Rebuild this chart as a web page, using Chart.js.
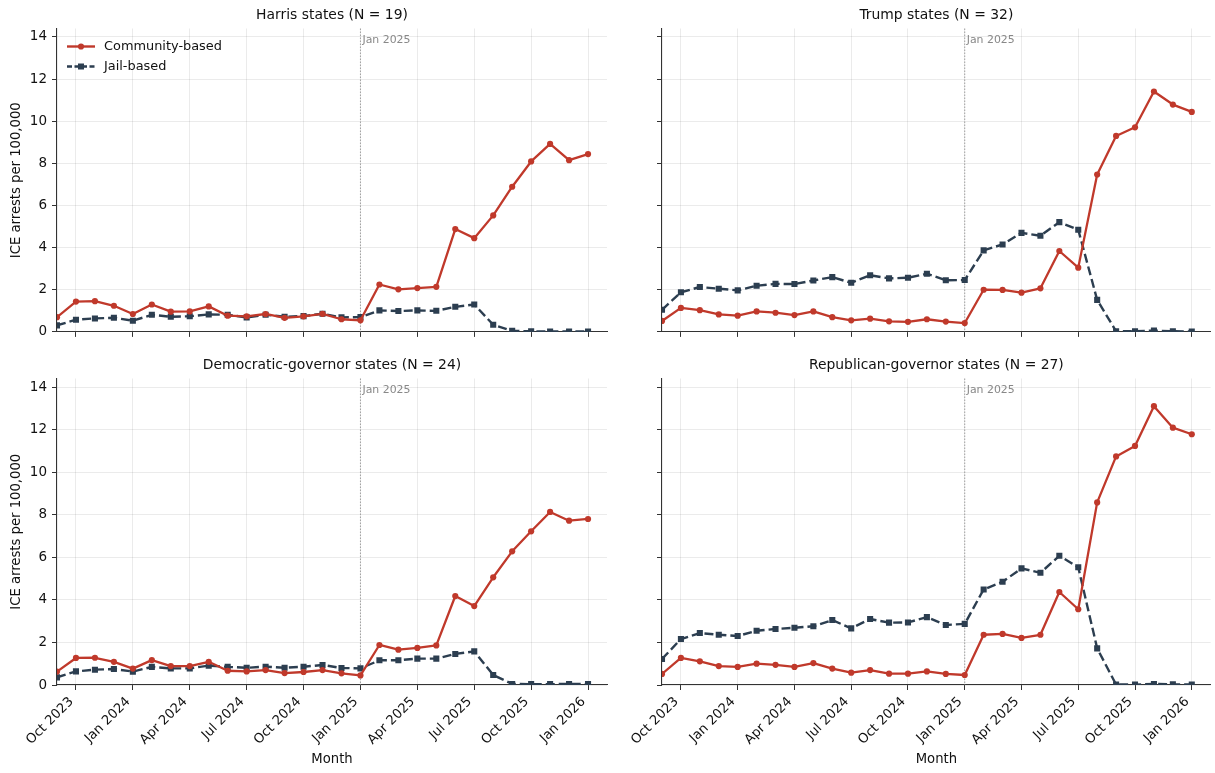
<!DOCTYPE html>
<html><head><meta charset="utf-8">
<script src="https://cdn.jsdelivr.net/npm/chart.js@4.4.1/dist/chart.umd.min.js"></script>
<style>
html,body{margin:0;padding:0;background:#fff;}
body{width:1215px;height:773px;position:relative;overflow:hidden;}
canvas{position:absolute;}
</style></head><body>
<canvas id="c1" width="615" height="345" style="left:0px;top:0px"></canvas>
<canvas id="c2" width="600" height="345" style="left:615px;top:0px"></canvas>
<canvas id="c3" width="615" height="428" style="left:0px;top:345px"></canvas>
<canvas id="c4" width="600" height="428" style="left:615px;top:345px"></canvas>
<script>
// ---- data ----
const months = ['Sep 2023','Oct 2023','Nov 2023','Dec 2023','Jan 2024','Feb 2024','Mar 2024','Apr 2024','May 2024','Jun 2024','Jul 2024','Aug 2024','Sep 2024','Oct 2024','Nov 2024','Dec 2024','Jan 2025','Feb 2025','Mar 2025','Apr 2025','May 2025','Jun 2025','Jul 2025','Aug 2025','Sep 2025','Oct 2025','Nov 2025','Dec 2025','Jan 2026'];
const xTickLabels = ['Oct 2023','Jan 2024','Apr 2024','Jul 2024','Oct 2024','Jan 2025','Apr 2025','Jul 2025','Oct 2025','Jan 2026'];
const yTickValues = [0,2,4,6,8,10,12,14];
const markerMonth = 'Jan 2025';

const harrisCommunity = [0.70,1.44,1.46,1.24,0.85,1.30,0.96,0.97,1.21,0.77,0.74,0.85,0.67,0.74,0.86,0.60,0.55,2.25,2.02,2.08,2.14,4.88,4.45,5.53,6.89,8.09,8.92,8.15,8.44];
const harrisJail      = [0.31,0.58,0.64,0.67,0.53,0.81,0.72,0.74,0.83,0.81,0.69,0.81,0.72,0.75,0.86,0.69,0.70,1.02,0.99,1.02,1.00,1.19,1.30,0.34,0.05,0.03,0.02,0.02,0.02];
const trumpCommunity  = [0.52,1.14,1.03,0.83,0.77,0.97,0.91,0.80,0.97,0.70,0.55,0.63,0.50,0.48,0.60,0.49,0.42,2.00,1.99,1.86,2.07,3.84,3.05,7.47,9.30,9.71,11.41,10.79,10.44];
const trumpJail       = [1.05,1.88,2.13,2.05,1.97,2.19,2.28,2.27,2.44,2.60,2.33,2.69,2.54,2.57,2.76,2.45,2.46,3.87,4.15,4.70,4.56,5.21,4.85,1.52,0.03,0.03,0.06,0.03,0.02];
const demCommunity    = [0.63,1.27,1.28,1.09,0.77,1.17,0.89,0.89,1.09,0.67,0.64,0.70,0.56,0.61,0.70,0.55,0.45,1.88,1.66,1.74,1.86,4.18,3.71,5.06,6.28,7.22,8.13,7.72,7.80];
const demJail         = [0.36,0.64,0.72,0.75,0.63,0.85,0.78,0.78,0.91,0.85,0.81,0.86,0.81,0.86,0.94,0.80,0.78,1.16,1.16,1.24,1.24,1.46,1.58,0.47,0.05,0.04,0.04,0.05,0.04];
const repCommunity    = [0.52,1.27,1.11,0.89,0.85,1.00,0.95,0.85,1.03,0.77,0.58,0.70,0.53,0.53,0.64,0.52,0.47,2.36,2.40,2.21,2.36,4.37,3.56,8.58,10.74,11.23,13.10,12.09,11.78];
const repJail         = [1.22,2.16,2.44,2.36,2.30,2.55,2.63,2.69,2.76,3.05,2.66,3.10,2.93,2.94,3.19,2.82,2.87,4.49,4.85,5.48,5.27,6.07,5.53,1.72,0.02,0.02,0.05,0.03,0.02];

const panelTitles = ['Harris states (N = 19)','Trump states (N = 32)','Democratic-governor states (N = 24)','Republican-governor states (N = 27)'];
const seriesNames = ['Community-based','Jail-based'];

// ---- style ----
const RED = '#c0392b', NAVY = '#2c3e50';
const GRID = 'rgba(0,0,0,0.08)', AXIS = '#333333', TXT = '#111111';
const FONT = '"DejaVu Sans", sans-serif';
Chart.defaults.font.family = FONT;
Chart.defaults.color = TXT;

const xTickIdx = xTickLabels.map(l => months.indexOf(l));

function toXY(arr){ return arr.map((v,i)=>({x:i,y:v})); }

function drawMarker(ctx, style, x, y, color){
  ctx.fillStyle = color;
  if(style==='circle'){ ctx.beginPath(); ctx.arc(x,y,3.1,0,Math.PI*2); ctx.fill(); }
  else { ctx.fillRect(x-3,y-3,6,6); }
}

function makeChart(id, title, comm, jail, o){
  const annot = {
    id:'annot'+id,
    beforeDatasetsDraw(chart){
      const {ctx, chartArea:a, scales:{x}} = chart;
      const px = x.getPixelForValue(months.indexOf(markerMonth));
      ctx.save();
      ctx.strokeStyle = '#a0a0a0'; ctx.lineWidth = 1; ctx.setLineDash([1.5,1.5]);
      ctx.beginPath(); ctx.moveTo(px, a.top); ctx.lineTo(px, a.bottom); ctx.stroke();
      ctx.setLineDash([]);
      ctx.fillStyle = '#888888'; ctx.font = '10.9px '+FONT; ctx.textAlign='left'; ctx.textBaseline='top';
      ctx.fillText(markerMonth, px+2, a.top+6);
      ctx.restore();
    },
    afterDraw(chart){
      const {ctx, chartArea:a} = chart;
      ctx.save();
      ctx.fillStyle = TXT; ctx.font = '13.9px '+FONT; ctx.textAlign='center'; ctx.textBaseline='middle';
      ctx.fillText(title, (a.left+a.right)/2, a.top-13);
      if(o.legend){
        const items = [[seriesNames[0], RED, 'circle', []],[seriesNames[1], NAVY, 'rect', [5,2.5]]];
        items.forEach((it,k)=>{
          const y = a.top + 18 + k*20;
          const x0 = a.left + 10, x1 = a.left + 38;
          ctx.strokeStyle = it[1]; ctx.lineWidth = 2.4; ctx.setLineDash(it[3]);
          ctx.beginPath(); ctx.moveTo(x0,y); ctx.lineTo(x1,y); ctx.stroke();
          ctx.setLineDash([]);
          drawMarker(ctx, it[2], (x0+x1)/2, y, it[1]);
          ctx.fillStyle = TXT; ctx.font = '12.9px '+FONT; ctx.textAlign='left'; ctx.textBaseline='middle';
          ctx.fillText(it[0], a.left+47, y);
        });
      }
      ctx.restore();
    }
  };
  const chart = new Chart(document.getElementById(id), {
    type:'line',
    data:{datasets:[
      {label:seriesNames[0], data:toXY(comm), borderColor:RED, backgroundColor:RED, borderWidth:2.3,
       pointStyle:'circle', pointRadius:3.1, pointBorderWidth:0, pointBackgroundColor:RED, tension:0, clip:0},
      {label:seriesNames[1], data:toXY(jail), borderColor:NAVY, backgroundColor:NAVY, borderWidth:2.4, borderDash:[9,4],
       pointStyle:'rect', pointRadius:4.3, pointBorderWidth:0, pointBackgroundColor:NAVY, tension:0, clip:0}
    ]},
    options:{
      responsive:false, animation:false, devicePixelRatio:1,
      layout:{padding:{top:o.padTop, right:o.padRight, left:0, bottom:0}},
      plugins:{legend:{display:false}, tooltip:{enabled:false}, title:{display:false}},
      elements:{line:{borderCapStyle:'butt', borderJoinStyle:'round'}},
      scales:{
        x:{type:'linear', min:0, max:months.length,
          afterBuildTicks:s=>{ s.ticks = xTickIdx.map(v=>({value:v})); },
          afterFit:s=>{ s.height = o.xH; },
          ticks:{autoSkip:false, minRotation:o.showX?45:0, maxRotation:o.showX?45:0, padding:4, labelOffset:o.showX?-4.5:0,
            font:{size:13.2}, color:TXT, callback:v=> o.showX ? months[v] : ''},
          grid:{color:GRID, tickColor:AXIS, tickLength:5, lineWidth:1},
          border:{color:AXIS, width:1.1},
          title:{display:o.showX, text:'Month', font:{size:13.2}, color:TXT, padding:{top:0,bottom:6}}
        },
        y:{min:0, max:14.4,
          afterBuildTicks:s=>{ s.ticks = yTickValues.map(v=>({value:v})); },
          afterFit:s=>{ s.width = o.yW; },
          ticks:{padding:5, font:{size:13.5}, color:TXT, callback:v=> o.showY ? String(v) : ''},
          grid:{color:GRID, tickColor:AXIS, tickLength:5, lineWidth:1},
          border:{color:AXIS, width:1.1},
          title:{display:o.showY, text:'ICE arrests per 100,000', font:{size:13.2}, color:TXT, padding:{top:9,bottom:0}}
        }
      }
    },
    plugins:[annot]
  });
  // self-correct the plot area to the target box
  for(let k=0;k<3;k++){
    const a = chart.chartArea, t = o.target;
    const dT = t.top - a.top, dB = a.bottom - t.bottom, dL = t.left - a.left, dR = a.right - t.right;
    if(Math.abs(dT)+Math.abs(dB)+Math.abs(dL)+Math.abs(dR) < 0.5) break;
    o.padTop += dT; o.xH += dB; o.yW += dL; o.padRight += dR;
    chart.options.layout.padding = {top:o.padTop, right:o.padRight, left:0, bottom:0};
    chart.update('none');
  }
  return chart;
}

makeChart('c1', panelTitles[0], harrisCommunity, harrisJail, {padTop:28, padRight:8, yW:57, xH:10, showX:false, showY:true, legend:true, target:{left:57,top:28.5,right:607,bottom:335}});
makeChart('c2', panelTitles[1], trumpCommunity, trumpJail, {padTop:28, padRight:2, yW:47, xH:10, showX:false, showY:false, legend:false, target:{left:47,top:28.5,right:598,bottom:335}});
makeChart('c3', panelTitles[2], demCommunity, demJail, {padTop:33, padRight:8, yW:57, xH:88, showX:true, showY:true, legend:false, target:{left:57,top:33.5,right:607,bottom:340}});
makeChart('c4', panelTitles[3], repCommunity, repJail, {padTop:33, padRight:2, yW:47, xH:88, showX:true, showY:false, legend:false, target:{left:47,top:33.5,right:598,bottom:340}});
</script>
</body></html>
